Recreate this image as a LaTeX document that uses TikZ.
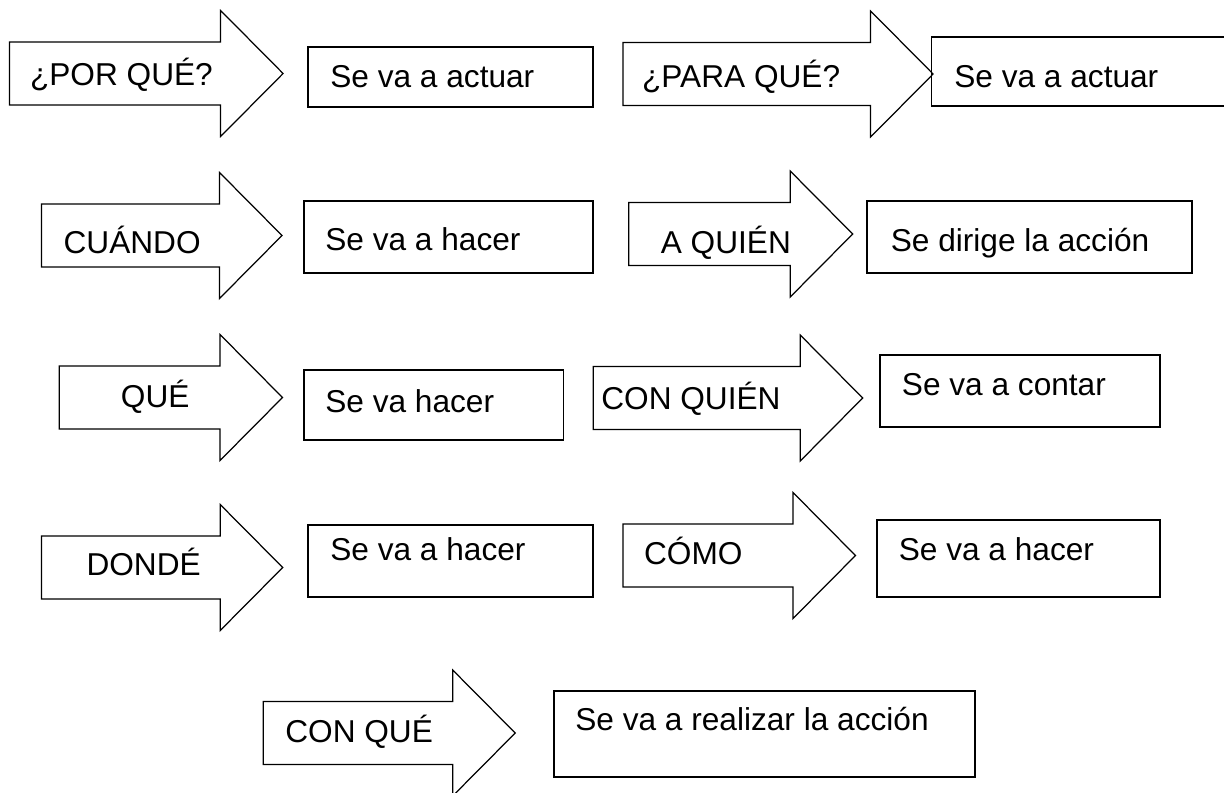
\documentclass[tikz,border=0pt]{standalone}
\usepackage{fontspec}
\setmainfont{Liberation Sans}
\usepackage{tikz}
\usetikzlibrary{positioning}
\usetikzlibrary{calc,fit}

\tikzset{
	qarrow/.style={draw=black, line width=0.7pt, fill=white, line join=miter},
	ansbox/.style={draw=black, line width=1.1pt, inner sep=0pt},
	qtext/.style={anchor=base west, inner sep=0pt, font=\fontsize{18}{21.6}\selectfont},
}

% block arrow: #1 = tail x, #2 = x where the head starts, #3 = middle y
\newcommand{\blockarrow}[3]{%
	\draw[qarrow] (#1,#3-31.5) -- (#2,#3-31.5) -- (#2,#3-63) -- (#2+62.5,#3)
		-- (#2,#3+63) -- (#2,#3+31.5) -- (#1,#3+31.5) -- cycle;
}

\begin{document}
\begin{tikzpicture}[x=0.02cm, y=-0.02cm]
	
	% page is 1224 x 792 units, origin top left
	\useasboundingbox (0,0) rectangle (1224,792);
	
	%%%%%%%%%%%%%%%%%%%%%%%%%%%%%%%%%%%%%%%%%%%%%%%%%%%%%%%%%%%%%%
	% the questions
	\blockarrow{9.5}{220.6}{73.5}
	\blockarrow{623}{870.6}{74}
	\blockarrow{41.5}{219.5}{235.5}
	\blockarrow{628.7}{790.2}{234}
	\blockarrow{59.3}{220}{397.5}
	\blockarrow{593.2}{800.2}{398}
	\blockarrow{41.5}{220.2}{567.5}
	\blockarrow{623}{793}{555.5}
	\blockarrow{263.3}{452.7}{733}
	
	\node[qtext] (Q1) at (29.7,85)    {¿POR QUÉ?};
	\node[qtext] (Q2) at (641.8,87.3) {¿PARA QUÉ?};
	\node[qtext] (Q3) at (63.3,253.3) {CUÁNDO};
	\node[qtext] (Q4) at (660.5,253.3) {A QUIÉN};
	\node[qtext] (Q5) at (120.6,407.3) {QUÉ};
	\node[qtext] (Q6) at (601,409.3)  {CON QUIÉN};
	\node[qtext] (Q7) at (86.2,575)   {DONDÉ};
	\node[qtext] (Q8) at (643.8,564)  {CÓMO};
	\node[qtext] (Q9) at (285,742.7)  {CON QUÉ};
	
	%%%%%%%%%%%%%%%%%%%%%%%%%%%%%%%%%%%%%%%%%%%%%%%%%%%%%%%%%%%%%%
	% the answers
	% NOTE: B2 runs off the right edge of the page
	\node[ansbox, fit={(308.4,46.7) (593,106.7)}]    (B1) {};
	\node[ansbox, fit={(931.5,36.7) (1240,106)}]     (B2) {};
	\node[ansbox, fit={(303.7,200.7) (593,273.3)}]   (B3) {};
	\node[ansbox, fit={(867.4,200.7) (1191.7,273.3)}] (B4) {};
	\node[ansbox, fit={(303.7,370) (563.5,440)}]     (B5) {};
	\node[ansbox, fit={(879.7,355) (1160,427.3)}]    (B6) {};
	\node[ansbox, fit={(308.4,525) (593,596.7)}]     (B7) {};
	\node[ansbox, fit={(877.4,520) (1160,596.7)}]    (B8) {};
	\node[ansbox, fit={(554,690.7) (975,776.7)}]     (B9) {};
	
	\node[qtext] (T1) at (330,87.3)    {Se va a actuar};
	\node[qtext] (T2) at (954,87.3)    {Se va a actuar};
	\node[qtext] (T3) at (325,250.7)   {Se va a hacer};
	\node[qtext] (T4) at (890.5,251.7) {Se dirige la acción};
	\node[qtext] (T5) at (325,412.7)   {Se va hacer};
	\node[qtext] (T6) at (901.6,395)   {Se va a contar};
	\node[qtext] (T7) at (330,560.7)   {Se va a hacer};
	\node[qtext] (T8) at (898.5,560.7) {Se va a hacer};
	\node[qtext] (T9) at (575,730)     {Se va a realizar la acción};
	
\end{tikzpicture}
\end{document}
